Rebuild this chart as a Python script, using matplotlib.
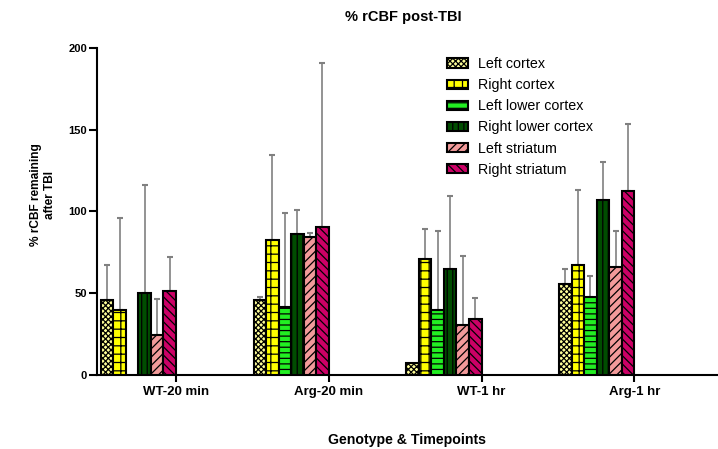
import numpy as np
import matplotlib
matplotlib.use("Agg")
from matplotlib import pyplot as plt

plt.rcParams['font.family'] = ['Liberation Sans', 'DejaVu Sans']
plt.rcParams['hatch.linewidth'] = 0.9

groups = ['WT-20 min', 'Arg-20 min', 'WT-1 hr', 'Arg-1 hr']
regions = ['Left cortex', 'Right cortex', 'Left lower cortex',
           'Right lower cortex', 'Left striatum', 'Right striatum']

# mean values per region, one entry per group
left_cortex = [46, 46, 7, 55.5]
right_cortex = [40, 82.5, 71, 67]
left_lower_cortex = [np.nan, 41.5, 40, 47.5]
right_lower_cortex = [50, 86, 65, 107]
left_striatum = [24.5, 84.5, 30.5, 66]
right_striatum = [51.5, 90.5, 34.5, 112.5]

# upper error (SD) per region
left_cortex_err = [21, 1.5, 0, 9.5]
right_cortex_err = [56, 52, 18, 46]
left_lower_cortex_err = [np.nan, 57.5, 48, 13]
right_lower_cortex_err = [66, 15, 44.5, 23]
left_striatum_err = [22, 2.5, 42.5, 22]
right_striatum_err = [20.5, 100.5, 12.5, 41]

means = [left_cortex, right_cortex, left_lower_cortex,
         right_lower_cortex, left_striatum, right_striatum]
errs = [left_cortex_err, right_cortex_err, left_lower_cortex_err,
        right_lower_cortex_err, left_striatum_err, right_striatum_err]

faces = ['#ffff99', '#ffff00', '#22ee22', '#004d00', '#f29a9a', '#cc0066']
hatches = ['xxxxxx', '++', '---', '|||', '////', '\\\\\\\\']

fig = plt.figure(figsize=(7.18, 4.49), dpi=100)
ax = fig.add_axes([0.135, 0.165, 0.864, 0.728])

x = np.arange(len(groups))
w = 0.082
for i in range(len(regions)):
    left = x - (len(regions) - i) * w
    m = np.array(means[i], dtype=float)
    e = np.array(errs[i], dtype=float)
    ax.bar(left, m, width=w, align='edge', color=faces[i], edgecolor='black',
           hatch=hatches[i], linewidth=1.5, label=regions[i], zorder=3)
    ok = ~np.isnan(m) & (np.nan_to_num(e) > 0)
    _, caps, _ = ax.errorbar(left[ok] + w / 2, m[ok],
                             yerr=[np.zeros(ok.sum()), e[ok]],
                             fmt='none', ecolor='#808080', elinewidth=1.2,
                             capsize=2, capthick=1.5, zorder=2)
    for c in caps:
        c.set_color('black')

ax.set_xlim(-0.517, 3.543)
ax.set_ylim(0, 200)
ax.set_xticks(x)
ax.set_xticklabels(groups, fontsize=9.5, fontweight='bold')
ax.set_yticks([0, 50, 100, 150, 200])
ax.tick_params(axis='y', labelsize=8, width=1.5, length=6, pad=1)
for t in ax.get_yticklabels():
    t.set_fontweight('bold')
ax.tick_params(axis='x', width=1.5, length=5, pad=3)
for s in ['top', 'right']:
    ax.spines[s].set_visible(False)
for s in ['left', 'bottom']:
    ax.spines[s].set_linewidth(1.5)

fig.text(0.562, 0.962, '% rCBF post-TBI', fontsize=10.5, fontweight='bold',
         ha='center', va='center')
fig.text(0.06, 0.566, '% rCBF remaining\nafter TBI', fontsize=8.6,
         fontweight='bold', rotation=90, ha='center', va='center')
fig.text(0.567, 0.02, 'Genotype & Timepoints', fontsize=10.2,
         fontweight='bold', ha='center', va='center')

ax.legend(loc='upper left', bbox_to_anchor=(0.555, 0.99), frameon=False,
          fontsize=10.3, handlelength=1.5, handleheight=0.6,
          handletextpad=0.7, labelspacing=0.5, borderaxespad=0)

fig.savefig('out.png', dpi=100)
